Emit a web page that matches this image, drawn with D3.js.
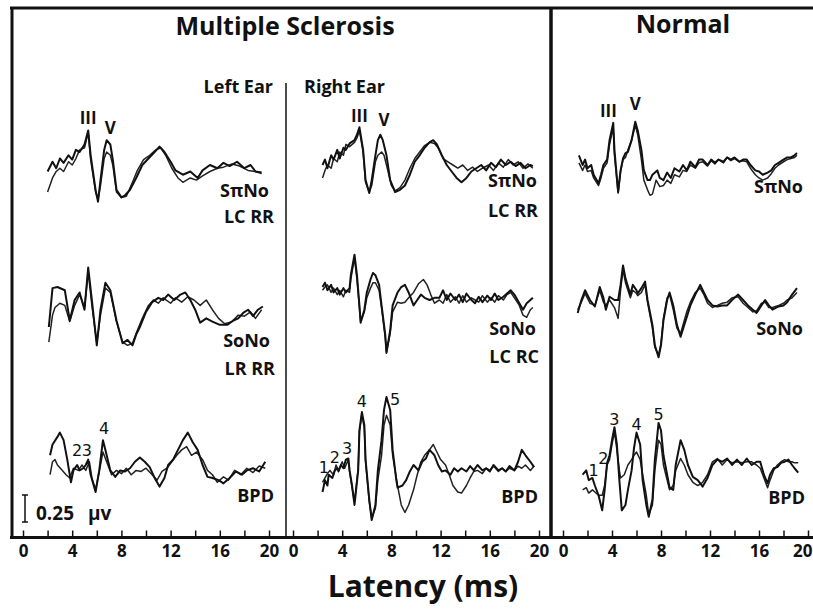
<!DOCTYPE html>
<html><head><meta charset="utf-8">
<script src="https://cdn.jsdelivr.net/npm/d3@7"></script>
<style>body{margin:0;background:#fff}svg{display:block}</style>
</head><body>
<svg id="chart" width="813" height="610"></svg>
<script>
// ---------- data (latency in ms, amplitude in µV relative to row baseline) ----------
const tickValues = [0,2,4,6,8,10,12,14,16,18,20];
const tickLabels = [0,4,8,12,16,20];
const panelTitles = ["Multiple Sclerosis", "Normal"];
const earLabels = ["Left Ear", "Right Ear"];
const conditionLabels = ["SπNo", "SoNo", "BPD"];
const configLabels = [["LC RR","LR RR"],["LC RR","LC RC"]];
const scaleBarValue = 0.25;

// MS left ear
const msLeftSpiNoA = [[2.0,-0.06],[2.4,0.03],[2.7,-0.03],[3.0,0.06],[3.3,0.02],[3.7,0.09],[4.0,0.05],[4.3,0.14],[4.6,0.12],[5.0,0.19],[5.3,0.32],[5.5,0.09],[5.9,-0.23],[6.1,-0.34],[6.3,-0.14],[6.6,0.14],[6.8,0.23],[7.1,0.19],[7.3,0.05],[7.6,-0.23],[8.0,-0.30],[8.3,-0.28],[8.7,-0.23],[9.2,-0.12],[9.7,0],[10.2,0.06],[10.7,0.12],[11.1,0.17],[11.5,0.12],[12.0,0.03],[12.4,-0.05],[13.0,-0.09],[13.6,-0.06],[14.2,-0.12],[14.6,-0.05],[15.2,0],[15.8,-0.03],[16.3,0.02],[16.8,-0.01],[17.4,0.03],[18.0,-0.03],[18.5,0],[18.9,-0.06],[19.4,-0.07]];
const msLeftSpiNoB = [[2.0,-0.25],[2.4,-0.12],[2.7,-0.06],[3.0,-0.03],[3.3,-0.06],[3.7,0.03],[4.0,0],[4.3,0.06],[4.6,0.14],[5.0,0.16],[5.3,0.30],[5.5,0.05],[5.9,-0.25],[6.1,-0.32],[6.3,-0.19],[6.6,0.06],[6.8,0.12],[7.1,0.09],[7.3,0],[7.6,-0.25],[8.0,-0.30],[8.4,-0.29],[8.9,-0.16],[9.3,-0.05],[9.8,0.05],[10.3,0.09],[10.8,0.14],[11.2,0.16],[11.6,0.09],[12.1,-0.03],[12.6,-0.12],[13.0,-0.16],[13.6,-0.12],[14.1,-0.14],[14.6,-0.10],[15.2,-0.06],[15.8,-0.03],[16.3,-0.02],[17.0,0.01],[17.6,-0.01],[18.3,-0.05],[18.9,-0.06],[19.4,-0.08]];
const msLeftSoNoA = [[2.1,-0.25],[2.4,0.11],[2.8,0.12],[3.4,0.09],[3.8,-0.19],[4.2,0],[4.6,0.07],[5.0,-0.09],[5.3,0.30],[5.6,0],[6.0,-0.42],[6.3,-0.09],[6.7,0.16],[7.1,0.09],[7.6,-0.19],[8.1,-0.40],[8.5,-0.37],[8.9,-0.42],[9.2,-0.32],[9.5,-0.25],[10.0,-0.11],[10.5,-0.02],[11.0,0.02],[11.4,0],[11.8,0.05],[12.3,0],[12.8,0.05],[13.2,0.07],[13.6,0],[14.0,-0.09],[14.4,-0.21],[14.9,-0.17],[15.4,-0.20],[16.0,-0.23],[16.6,-0.23],[17.1,-0.19],[17.5,-0.17],[17.9,-0.12],[18.3,-0.09],[18.7,-0.15],[19.1,-0.09],[19.5,-0.06]];
const msLeftSoNoB = [[2.1,-0.39],[2.4,-0.14],[2.6,-0.07],[3.0,-0.03],[3.4,-0.05],[3.8,-0.20],[4.2,-0.05],[4.6,0.05],[5.0,-0.07],[5.3,0.26],[5.6,-0.05],[6.0,-0.40],[6.3,-0.14],[6.7,0.11],[7.1,0.07],[7.6,-0.20],[8.1,-0.39],[8.5,-0.42],[8.9,-0.40],[9.3,-0.28],[9.7,-0.17],[10.2,-0.05],[10.6,0],[11.0,-0.03],[11.4,0.02],[12.0,-0.03],[12.4,0.02],[12.9,-0.02],[13.4,0.03],[13.9,0],[14.4,-0.05],[14.9,0],[15.4,-0.09],[15.9,-0.17],[16.4,-0.22],[17.0,-0.20],[17.5,-0.14],[18.0,-0.15],[18.5,-0.11],[18.9,-0.17],[19.4,-0.09]];
const msLeftBpdA = [[2.2,0.09],[2.4,0.19],[2.8,0.26],[3.0,0.30],[3.3,0.23],[3.6,0.05],[3.9,-0.16],[4.1,-0.05],[4.4,0],[4.6,-0.05],[4.9,-0.03],[5.1,0],[5.3,0.05],[5.5,-0.09],[5.9,-0.25],[6.2,-0.05],[6.5,0.23],[6.7,0.14],[7.1,-0.05],[7.5,-0.11],[7.9,-0.05],[8.3,-0.06],[8.7,-0.03],[9.1,0.03],[9.5,0.07],[9.9,0.03],[10.3,-0.02],[10.7,-0.12],[11.1,-0.20],[11.5,-0.12],[11.8,0],[12.2,0.05],[12.6,0.14],[13.0,0.23],[13.4,0.30],[13.8,0.21],[14.2,0.14],[14.6,0],[15.0,-0.11],[15.4,-0.12],[15.9,-0.14],[16.3,-0.17],[16.8,-0.12],[17.3,-0.06],[17.8,-0.09],[18.2,-0.05],[18.7,-0.03],[19.2,-0.06],[19.7,0.03]];
const msLeftBpdB = [[2.2,-0.09],[2.4,0.03],[2.6,0.05],[2.8,0],[3.2,-0.05],[3.5,-0.09],[3.8,-0.12],[4.1,-0.03],[4.5,-0.05],[4.8,0],[5.1,-0.05],[5.4,0.03],[5.6,-0.12],[5.9,-0.23],[6.2,-0.06],[6.5,0.12],[6.8,0.03],[7.2,-0.09],[7.6,-0.05],[8.0,-0.08],[8.4,-0.03],[8.8,-0.09],[9.2,-0.05],[9.6,-0.06],[10.0,-0.03],[10.5,-0.09],[10.9,-0.14],[11.3,-0.06],[11.7,-0.03],[12.1,0.03],[12.5,0.09],[12.9,0.14],[13.3,0.17],[13.7,0.09],[14.1,0.12],[14.6,0.05],[15.0,-0.05],[15.4,-0.09],[15.8,-0.16],[16.3,-0.11],[16.7,-0.14],[17.2,-0.05],[17.7,-0.09],[18.2,-0.03],[18.7,-0.07],[19.2,-0.01],[19.7,-0.03]];

// MS right ear
const msRightSpiNoA = [[2.4,0],[2.6,0.05],[2.8,-0.03],[3.1,0.09],[3.3,0.05],[3.6,0.14],[3.8,0.06],[4.1,0.16],[4.3,0.14],[4.6,0.20],[5.0,0.23],[5.2,0.28],[5.4,0.35],[5.7,0.14],[5.9,-0.14],[6.2,-0.26],[6.4,-0.14],[6.7,0.09],[6.9,0.23],[7.1,0.28],[7.3,0.23],[7.6,0.09],[7.9,-0.14],[8.3,-0.25],[8.7,-0.23],[9.1,-0.19],[9.5,-0.09],[9.9,0.03],[10.3,0.09],[10.7,0.16],[11.1,0.21],[11.4,0.23],[11.7,0.19],[12.1,0.09],[12.5,0],[12.9,-0.06],[13.3,-0.12],[13.7,-0.16],[14.1,-0.12],[14.5,-0.06],[14.9,-0.03],[15.3,0],[15.7,-0.05],[16.1,0.02],[16.5,-0.02],[16.9,0.05],[17.3,0],[17.7,0.03],[18.1,-0.01],[18.5,0.02],[18.9,-0.03],[19.3,0],[19.5,-0.01]];
const msRightSpiNoB = [[2.4,-0.12],[2.6,-0.05],[2.8,0],[3.1,-0.03],[3.3,0.06],[3.6,0.03],[3.8,0.12],[4.1,0.09],[4.3,0.19],[4.6,0.17],[5.0,0.21],[5.2,0.25],[5.4,0.32],[5.7,0.12],[5.9,-0.16],[6.2,-0.25],[6.4,-0.19],[6.7,0.03],[6.9,0.09],[7.2,0.12],[7.4,0.09],[7.6,0],[8.0,-0.19],[8.3,-0.24],[8.7,-0.21],[9.1,-0.14],[9.5,-0.03],[9.9,0.06],[10.3,0.12],[10.7,0.18],[11.1,0.21],[11.5,0.20],[11.8,0.16],[12.2,0.06],[12.6,0.03],[13.0,0],[13.4,-0.03],[13.8,0],[14.2,-0.05],[14.6,-0.02],[15.0,-0.06],[15.4,-0.03],[15.9,0],[16.3,-0.05],[16.7,0.02],[17.1,-0.02],[17.5,0.05],[17.9,0],[18.3,0.03],[18.7,-0.03],[19.1,0.01],[19.5,-0.03]];
const msRightSoNoA = [[2.4,0.12],[2.6,0.16],[2.8,0.09],[3.1,0.14],[3.3,0.07],[3.6,0.11],[3.8,0.05],[4.1,0.11],[4.3,0.07],[4.6,0.11],[4.7,0.23],[5.0,0.42],[5.2,0.23],[5.4,-0.05],[5.5,-0.21],[5.8,-0.09],[6.0,0.07],[6.3,0.19],[6.5,0.25],[6.7,0.23],[7.0,0.14],[7.2,-0.05],[7.5,-0.32],[7.6,-0.49],[7.9,-0.28],[8.1,-0.05],[8.5,0.07],[8.8,0.12],[9.1,0.14],[9.4,0.07],[9.8,-0.05],[10.1,0],[10.4,0.05],[10.7,0.02],[11.1,0],[11.5,0.02],[11.9,0.02],[12.2,0.09],[12.5,0],[12.8,0.06],[13.2,0],[13.5,0.05],[13.8,-0.02],[14.1,0.06],[14.5,0],[14.8,-0.03],[15.1,0.03],[15.4,-0.02],[15.8,0.04],[16.1,0],[16.4,0.06],[16.7,0],[17.1,0.03],[17.4,0.06],[17.7,0.09],[18.0,0.05],[18.4,-0.03],[18.7,-0.09],[19.0,-0.03],[19.3,0],[19.5,0.02]];
const msRightSoNoB = [[2.4,0.09],[2.6,0.12],[2.8,0.14],[3.1,0.07],[3.3,0.11],[3.6,0.05],[3.8,0.09],[4.1,0.03],[4.3,0.09],[4.6,0.07],[4.7,0.19],[5.0,0.39],[5.2,0.19],[5.4,-0.07],[5.5,-0.20],[5.8,-0.11],[6.0,0.02],[6.3,0.11],[6.5,0.16],[6.7,0.16],[7.0,0.09],[7.2,-0.07],[7.5,-0.35],[7.6,-0.48],[7.9,-0.31],[8.1,-0.11],[8.5,-0.02],[8.8,-0.03],[9.1,-0.02],[9.4,0.02],[9.8,0.07],[10.2,0.15],[10.6,0.19],[10.9,0.14],[11.2,0.05],[11.5,-0.03],[11.9,0],[12.2,-0.03],[12.5,0.05],[12.8,-0.02],[13.2,0.03],[13.5,-0.03],[13.8,0.04],[14.1,-0.02],[14.5,0.02],[14.8,0],[15.1,-0.02],[15.4,0.04],[15.8,-0.02],[16.1,0.02],[16.4,-0.02],[16.7,0.04],[17.1,0],[17.4,0.05],[17.7,0.07],[18.0,0.02],[18.4,-0.05],[18.7,-0.14],[19.0,-0.16],[19.3,-0.09],[19.5,-0.07]];
const msRightBpdA = [[2.4,-0.25],[2.6,-0.14],[2.8,-0.19],[2.9,-0.09],[3.2,-0.12],[3.4,-0.05],[3.6,-0.03],[3.7,-0.06],[3.9,0],[4.1,-0.03],[4.3,0.05],[4.5,0.06],[4.6,-0.05],[4.8,-0.19],[5.0,-0.37],[5.3,-0.05],[5.4,0.32],[5.6,0.49],[5.8,0.37],[5.9,0.05],[6.2,-0.32],[6.4,-0.51],[6.7,-0.37],[6.9,-0.05],[7.2,0.23],[7.4,0.51],[7.6,0.63],[7.9,0.51],[8.1,0.14],[8.4,-0.14],[8.5,-0.21],[8.9,-0.19],[9.2,-0.14],[9.5,-0.06],[9.8,0],[10.2,-0.05],[10.5,0.03],[10.8,0.06],[11.1,0.14],[11.5,0.09],[11.8,0],[12.1,-0.06],[12.4,-0.05],[12.8,-0.09],[13.1,-0.03],[13.4,-0.06],[13.7,-0.03],[14.1,-0.06],[14.4,-0.01],[14.7,-0.05],[15.0,0],[15.4,-0.05],[15.7,-0.03],[16.0,-0.06],[16.3,0],[16.7,-0.05],[17.0,-0.03],[17.3,-0.06],[17.6,-0.01],[18.0,-0.05],[18.3,0.03],[18.6,0.14],[18.9,0.09],[19.3,0.03],[19.6,-0.02]];
const msRightBpdB = [[2.4,-0.16],[2.6,-0.12],[2.8,-0.08],[3.0,-0.05],[3.3,-0.09],[3.5,0],[3.7,-0.05],[4.0,0.03],[4.2,-0.03],[4.5,0.05],[4.6,-0.06],[4.8,-0.21],[5.0,-0.34],[5.3,-0.03],[5.4,0.31],[5.6,0.47],[5.8,0.34],[5.9,0.03],[6.2,-0.34],[6.4,-0.49],[6.7,-0.40],[6.9,-0.14],[7.2,0.09],[7.4,0.37],[7.6,0.46],[7.9,0.37],[8.1,0.09],[8.5,-0.19],[8.8,-0.37],[9.1,-0.44],[9.4,-0.37],[9.8,-0.23],[10.1,-0.09],[10.4,0.03],[10.7,0.09],[11.1,0.14],[11.4,0.19],[11.7,0.12],[12.0,0.05],[12.4,0],[12.7,-0.09],[13.0,-0.19],[13.4,-0.25],[13.7,-0.26],[14.1,-0.19],[14.4,-0.12],[14.7,-0.06],[15.0,-0.05],[15.4,-0.08],[15.7,-0.03],[16.0,-0.05],[16.3,-0.01],[16.7,-0.06],[17.0,-0.03],[17.3,-0.06],[17.6,-0.03],[18.0,-0.05],[18.3,-0.01],[18.6,-0.03],[18.9,0],[19.3,-0.05],[19.6,-0.01]];

// Normal
const normSpiNoA = [[1.3,0.09],[1.6,0],[1.8,0.05],[2.0,-0.03],[2.3,0],[2.5,-0.09],[2.9,-0.17],[3.1,-0.09],[3.3,0],[3.6,0.05],[3.8,0.23],[4.1,0.39],[4.2,0.14],[4.5,-0.25],[4.7,-0.05],[4.9,0.06],[5.1,0.11],[5.3,0.12],[5.6,0.23],[5.9,0.40],[6.1,0.32],[6.4,0.14],[6.6,-0.05],[6.9,-0.14],[7.1,-0.14],[7.3,-0.09],[7.7,-0.05],[7.9,-0.12],[8.2,-0.14],[8.5,-0.07],[8.8,-0.12],[9.1,-0.03],[9.5,-0.06],[9.8,0],[10.1,-0.05],[10.4,0.03],[10.8,-0.02],[11.1,0.05],[11.4,0.05],[11.8,0],[12.1,0.05],[12.4,0.02],[12.7,0.05],[13.1,0.03],[13.4,0.07],[13.7,0.05],[14.0,0.07],[14.4,0.03],[14.7,0.05],[15.0,0.05],[15.3,0],[15.7,-0.05],[16.0,-0.06],[16.3,-0.09],[16.7,-0.07],[17.0,-0.05],[17.3,0],[17.6,0.02],[18.0,0.05],[18.3,0.07],[18.6,0.07],[18.9,0.09],[19.1,0.11]];
const normSpiNoB = [[1.3,0.02],[1.6,-0.05],[1.8,0],[2.0,-0.06],[2.3,-0.05],[2.5,-0.12],[2.9,-0.19],[3.1,-0.12],[3.3,-0.03],[3.6,0.02],[3.8,0.19],[4.1,0.35],[4.2,0.09],[4.5,-0.26],[4.7,-0.06],[4.9,0.05],[5.1,0.07],[5.3,0.14],[5.6,0.23],[5.9,0.37],[6.1,0.28],[6.4,0.05],[6.6,-0.14],[6.9,-0.23],[7.1,-0.28],[7.3,-0.27],[7.6,-0.14],[7.9,-0.20],[8.2,-0.19],[8.5,-0.14],[8.8,-0.17],[9.1,-0.09],[9.5,-0.11],[9.8,-0.05],[10.1,-0.06],[10.4,0],[10.8,-0.03],[11.1,0.02],[11.4,0.03],[11.8,-0.01],[12.1,0.04],[12.4,0.01],[12.7,0.05],[13.1,0.02],[13.4,0.07],[13.7,0.04],[14.0,0.06],[14.4,0.03],[14.7,0.04],[15.0,0.03],[15.3,-0.03],[15.7,-0.09],[16.0,-0.12],[16.3,-0.14],[16.7,-0.12],[17.0,-0.08],[17.3,-0.03],[17.6,0],[18.0,0.03],[18.3,0.05],[18.6,0.06],[18.9,0.07],[19.1,0.09]];
const normSoNoA = [[1.2,-0.12],[1.5,0],[1.8,0.09],[2.2,0],[2.6,-0.06],[3.0,0.12],[3.3,0.02],[3.5,-0.09],[3.8,0.03],[4.2,0],[4.5,0],[4.7,0.14],[4.9,0.32],[5.1,0.20],[5.5,0.05],[5.7,0.14],[6.0,0.09],[6.1,0.06],[6.4,0.11],[6.7,0.17],[6.9,0],[7.3,-0.23],[7.5,-0.42],[7.8,-0.53],[8.0,-0.42],[8.2,-0.19],[8.5,0],[8.7,0.07],[9.0,-0.05],[9.3,-0.23],[9.6,-0.34],[9.9,-0.23],[10.1,-0.16],[10.4,-0.05],[10.8,0.05],[11.2,0.14],[11.5,0.07],[11.8,0],[12.2,-0.05],[12.6,-0.06],[13.0,-0.05],[13.4,-0.05],[13.8,0],[14.3,0.05],[14.7,0],[15.1,-0.05],[15.5,-0.09],[15.8,-0.12],[16.2,-0.05],[16.5,0],[16.8,-0.05],[17.1,-0.09],[17.6,-0.06],[18.0,-0.05],[18.3,-0.02],[18.7,0.05],[19.1,0.11]];
const normSoNoB = [[1.2,-0.09],[1.5,-0.02],[1.8,0.06],[2.2,-0.03],[2.6,-0.05],[3.0,0.09],[3.3,-0.02],[3.5,-0.05],[3.8,0],[4.2,-0.07],[4.5,-0.17],[4.7,0.09],[4.9,0.28],[5.1,0.16],[5.5,0.02],[5.7,0.09],[6.0,0.06],[6.1,0.04],[6.4,0.07],[6.7,0.14],[6.9,-0.02],[7.3,-0.26],[7.5,-0.44],[7.8,-0.51],[8.0,-0.40],[8.2,-0.17],[8.5,0.02],[8.7,0.05],[9.0,-0.09],[9.3,-0.26],[9.6,-0.31],[9.9,-0.19],[10.1,-0.11],[10.4,-0.02],[10.8,0.07],[11.2,0.11],[11.5,0.05],[11.8,-0.03],[12.2,-0.07],[12.6,-0.05],[13.0,-0.03],[13.4,-0.02],[13.8,0.02],[14.3,0.03],[14.7,-0.03],[15.1,-0.07],[15.5,-0.11],[15.8,-0.10],[16.2,-0.03],[16.5,-0.02],[16.8,-0.07],[17.1,-0.07],[17.6,-0.05],[18.0,-0.03],[18.3,0],[18.7,0.02],[19.1,0.07]];
const normBpdA = [[1.6,-0.09],[1.9,-0.05],[2.1,-0.14],[2.4,-0.12],[2.6,-0.19],[2.9,-0.28],[3.2,-0.42],[3.4,-0.23],[3.6,0.02],[3.8,0.09],[4.0,0.23],[4.2,0.35],[4.4,0.19],[4.6,-0.14],[4.8,-0.42],[5.1,-0.37],[5.3,-0.23],[5.6,-0.05],[5.8,0.16],[6.0,0.30],[6.3,0.19],[6.5,-0.14],[6.8,-0.37],[7.0,-0.48],[7.3,-0.32],[7.5,0.05],[7.8,0.39],[8.0,0.32],[8.2,0.09],[8.5,-0.09],[8.7,-0.21],[9.0,-0.23],[9.2,0],[9.6,0.23],[9.9,0.14],[10.2,0],[10.6,-0.11],[11.0,-0.14],[11.4,-0.20],[11.8,-0.12],[12.2,0],[12.6,0.05],[13.0,0.03],[13.4,0.06],[13.8,0],[14.2,0.05],[14.6,0],[15.0,0.06],[15.4,0],[15.8,0.03],[16.1,0.03],[16.4,-0.09],[16.7,-0.17],[16.9,-0.09],[17.2,-0.03],[17.5,-0.02],[17.8,0.02],[18.1,0.03],[18.4,0.05],[18.7,0],[18.9,-0.03],[19.2,-0.07]];
const normBpdB = [[1.6,-0.23],[1.9,-0.21],[2.1,-0.26],[2.4,-0.23],[2.6,-0.25],[2.9,-0.28],[3.2,-0.28],[3.4,-0.19],[3.6,0],[3.8,0.05],[4.0,0.19],[4.2,0.31],[4.4,0.14],[4.6,-0.05],[4.7,-0.12],[5.0,-0.09],[5.3,0],[5.6,0.05],[5.8,0.09],[6.0,0.12],[6.3,0.05],[6.5,-0.09],[6.8,-0.28],[7.0,-0.46],[7.3,-0.37],[7.5,-0.05],[7.8,0.23],[8.0,0.19],[8.2,0],[8.5,-0.14],[8.7,-0.23],[9.0,-0.19],[9.2,-0.05],[9.6,0.06],[9.9,0],[10.2,-0.09],[10.6,-0.16],[11.0,-0.19],[11.4,-0.16],[11.8,-0.09],[12.2,0.03],[12.6,0.06],[13.0,0],[13.4,0.05],[13.8,0.02],[14.2,0.03],[14.6,0.02],[15.0,0.03],[15.4,0.03],[15.8,0],[16.1,-0.03],[16.4,-0.12],[16.7,-0.21],[16.9,-0.14],[17.2,-0.05],[17.5,0],[17.8,0.03],[18.1,0.05],[18.4,0.03],[18.7,0.03],[18.9,0.02],[19.2,0.02]];

// peak annotations: [panel, row, label, ms, µV]
const peakLabels = [
  [0,0,"III",5.3,0.38],[0,0,"V",7.1,0.29],
  [1,0,"III",5.4,0.40],[1,0,"V",7.4,0.36],
  [2,0,"III",3.7,0.44],[2,0,"V",5.9,0.51],
  [0,2,"2",4.4,0.08],[0,2,"3",5.2,0.08],[0,2,"4",6.6,0.29],
  [1,2,"1",2.5,-0.07],[1,2,"2",3.4,0.02],[1,2,"3",4.4,0.10],[1,2,"4",5.6,0.54],[1,2,"5",8.3,0.56],
  [2,2,"1",2.5,-0.10],[2,2,"2",3.3,0.01],[2,2,"3",4.2,0.37],[2,2,"4",6.0,0.32],[2,2,"5",7.8,0.42]
];

// ---------- drawing ----------
const W = 813, H = 610;
const svg = d3.select("#chart");
svg.append("rect").attr("width", W).attr("height", H).attr("fill", "#fff");

const FONT = "'Open Sans', Lato, sans-serif";
const axisY = 537.5;
const panels = [
  {x: d3.scaleLinear().domain([0,20]).range([23, 269])},
  {x: d3.scaleLinear().domain([0,20]).range([293, 539])},
  {x: d3.scaleLinear().domain([0,20]).range([563, 808])}
];
const rowBase = [165, 300, 465];
const yScales = rowBase.map(b => d3.scaleLinear().domain([-1, 1]).range([b + 108, b - 108]));

const traces = [
  [0,0,msLeftSpiNoA,msLeftSpiNoB],[0,1,msLeftSoNoA,msLeftSoNoB],[0,2,msLeftBpdA,msLeftBpdB],
  [1,0,msRightSpiNoA,msRightSpiNoB],[1,1,msRightSoNoA,msRightSoNoB],[1,2,msRightBpdA,msRightBpdB],
  [2,0,normSpiNoA,normSpiNoB],[2,1,normSoNoA,normSoNoB],[2,2,normBpdA,normBpdB]
];

// frame
const frame = svg.append("g").attr("stroke", "#111").attr("fill", "none");
frame.append("line").attr("x1", 10).attr("x2", W).attr("y1", 8).attr("y2", 8).attr("stroke-width", 3);
frame.append("line").attr("x1", 12).attr("x2", 12).attr("y1", 7).attr("y2", axisY + 1.5).attr("stroke-width", 3);
frame.append("line").attr("x1", 551).attr("x2", 551).attr("y1", 7).attr("y2", axisY + 1.5).attr("stroke-width", 3.5);
frame.append("line").attr("x1", 10).attr("x2", W).attr("y1", axisY).attr("y2", axisY).attr("stroke-width", 3);
frame.append("line").attr("x1", 286).attr("x2", 286).attr("y1", 83).attr("y2", axisY).attr("stroke-width", 1.5);

// axes
panels.forEach((p, pi) => {
  const gt = svg.append("g").attr("transform", `translate(0,${axisY - 1})`)
    .call(d3.axisTop(p.x).tickValues(tickValues).tickSize(6).tickFormat(""));
  gt.select(".domain").remove();
  gt.selectAll(".tick line").attr("stroke", "#111").attr("stroke-width", 1.5);
  const gl = svg.append("g").attr("transform", `translate(0,${axisY})`)
    .call(d3.axisBottom(p.x).tickValues(tickLabels).tickSize(0).tickPadding(7));
  gl.select(".domain").remove();
  gl.selectAll(".tick text").attr("font-family", FONT).attr("font-weight", "bold")
    .attr("font-size", 17).attr("fill", "#111");
  if (pi === 2) {
    // last label sits at the right edge of the picture
    gl.selectAll(".tick text").filter(d => d === 20).attr("text-anchor", "end").attr("dx", 4);
  }
});

// traces
traces.forEach(([pi, ri, a, b]) => {
  const line = d3.line().x(d => panels[pi].x(d[0])).y(d => yScales[ri](d[1]));
  svg.append("path").attr("d", line(b)).attr("fill", "none").attr("stroke", "#222")
    .attr("stroke-width", 1.5).attr("stroke-linejoin", "round");
  svg.append("path").attr("d", line(a)).attr("fill", "none").attr("stroke", "#111")
    .attr("stroke-width", 2).attr("stroke-linejoin", "round");
});

// text helper
function txt(x, y, s, size, anchor, weight, fam) {
  return svg.append("text").attr("x", x).attr("y", y).text(s)
    .attr("font-family", fam || FONT).attr("font-size", size)
    .attr("font-weight", weight || "bold").attr("text-anchor", anchor || "start").attr("fill", "#111");
}

// titles
txt(285, 35, panelTitles[0], 25, "middle");
txt(683, 33, panelTitles[1], 25, "middle");
txt(273, 93, earLabels[0], 18, "end");
txt(304, 93, earLabels[1], 18, "start");

// condition labels
const condPos = [
  [[269,197],[270,347],[274,502]],
  [[537,187],[536,335],[538,503]],
  [[803,193],[803,335],[805,504]]
];
condPos.forEach((col, pi) => col.forEach((pos, ri) => txt(pos[0], pos[1], conditionLabels[ri], 18, "end")));
txt(274, 223, configLabels[0][0], 18, "end");
txt(275, 375, configLabels[0][1], 18, "end");
txt(538, 217, configLabels[1][0], 18, "end");
txt(539, 363, configLabels[1][1], 18, "end");

// peak labels
peakLabels.forEach(([pi, ri, s, t, v]) => {
  const roman = /^[IV]+$/.test(s);
  txt(panels[pi].x(t), yScales[ri](v), s, roman ? 17 : 16, "middle", roman ? "bold" : "normal",
      roman ? FONT : "'DejaVu Sans', sans-serif");
});

// scale bar
const sb = svg.append("g").attr("stroke", "#111").attr("stroke-width", 1.5);
const sbTop = 495, sbBot = sbTop + scaleBarValue * 108;
sb.append("line").attr("x1", 25).attr("x2", 25).attr("y1", sbTop).attr("y2", sbBot);
sb.append("line").attr("x1", 22).attr("x2", 28).attr("y1", sbTop).attr("y2", sbTop);
sb.append("line").attr("x1", 22).attr("x2", 28).attr("y1", sbBot).attr("y2", sbBot);
const sbt = txt(36, 520, "", 19, "start");
sbt.append("tspan").text(scaleBarValue.toFixed(2));
sbt.append("tspan").attr("dx", 14).text("μv");

// x-axis title
txt(423, 597, "Latency (ms)", 30, "middle");
</script>
</body></html>
